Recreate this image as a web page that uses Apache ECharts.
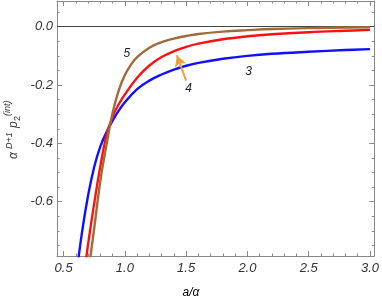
<!DOCTYPE html>
<html><head><meta charset="utf-8">
<script src="https://cdn.jsdelivr.net/npm/echarts@6/dist/echarts.min.js"></script>
<style>html,body{margin:0;padding:0;background:#fff}#c{width:382px;height:300px}</style>
</head><body><div id="c"></div>
<script>
// ---- data ----
const blueX  = [0.60,0.65,0.70,0.75,0.80,0.85,0.90,0.95,1.0,1.1,1.2,1.3,1.4,1.5,1.6,1.8,2.0,2.2,2.5,2.8,3.0];
const blueY  = [-0.865,-0.705,-0.578,-0.48,-0.41,-0.362,-0.322,-0.288,-0.259,-0.214,-0.185,-0.164,-0.147,-0.134,-0.124,-0.110,-0.100,-0.093,-0.086,-0.080,-0.077];
const redX   = [0.67,0.70,0.75,0.80,0.85,0.90,0.95,1.0,1.1,1.2,1.3,1.4,1.5,1.6,1.8,2.0,2.2,2.5,2.8,3.0];
const redY   = [-0.84,-0.745,-0.605,-0.478,-0.372,-0.308,-0.266,-0.232,-0.175,-0.133,-0.104,-0.084,-0.069,-0.058,-0.043,-0.033,-0.026,-0.019,-0.014,-0.011];
const brownX = [0.70,0.72,0.75,0.80,0.85,0.90,0.95,1.0,1.05,1.1,1.2,1.3,1.4,1.5,1.6,1.8,2.0,2.2,2.5,3.0];
const brownY = [-0.85,-0.785,-0.69,-0.528,-0.405,-0.295,-0.218,-0.166,-0.130,-0.104,-0.072,-0.053,-0.041,-0.032,-0.025,-0.017,-0.012,-0.008,-0.005,-0.002];
const xMajor = [0.5,1.0,1.5,2.0,2.5,3.0];
const xMinor = [0.5,0.6,0.7,0.8,0.9,1.0,1.1,1.2,1.3,1.4,1.5,1.6,1.7,1.8,1.9,2.0,2.1,2.2,2.3,2.4,2.5,2.6,2.7,2.8,2.9,3.0];
const yMajor = [-0.6,-0.4,-0.2,0.0];
const yMinor = [-0.75,-0.7,-0.65,-0.6,-0.55,-0.5,-0.45,-0.4,-0.35,-0.3,-0.25,-0.2,-0.15,-0.1,-0.05,0.0,0.05];
const curveLabels = [{text:'5', at:[1.016,-0.091]}, {text:'4', at:[1.52,-0.211]}, {text:'3', at:[2.01,-0.154]}];
const arrowFrom = [1.5,-0.185], arrowTo = [1.424,-0.098];

const pairs = (xs, ys) => xs.map((x,i)=>[x, ys[i]]);
const XMIN=0.446, XMAX=3.035, YMIN=-0.786, YMAX=0.088;
const frame='#888888';
const lblFont = {fontFamily:'Liberation Sans, Arial, sans-serif', fontStyle:'italic', fontSize:13, color:'#333'};

function xAx(pos, vals, len, labels, line){
  return {type:'value', position:pos, min:XMIN, max:XMAX, splitLine:{show:false},
    axisLine:{show:line, onZero:false, lineStyle:{color:frame, width:1}},
    axisTick:{show:true, inside:true, length:len, customValues:vals, lineStyle:{color:frame}},
    axisLabel:labels ? Object.assign({show:true, customValues:vals, margin:6, formatter:v=>v.toFixed(1)}, lblFont) : {show:false}};
}
function yAx(pos, vals, len, labels, line){
  return {type:'value', position:pos, min:YMIN, max:YMAX, splitLine:{show:false},
    axisLine:{show:line, onZero:false, lineStyle:{color:frame, width:1}},
    axisTick:{show:true, inside:true, length:len, customValues:vals, lineStyle:{color:frame}},
    axisLabel:labels ? Object.assign({show:true, customValues:vals, margin:4, formatter:v=>v.toFixed(1)}, lblFont) : {show:false}};
}

const chart = echarts.init(document.getElementById('c'), null, {renderer:'canvas'});
const ml = (c)=>({silent:true, symbol:'none', label:{show:false}, lineStyle:{color:c, width:1, type:'solid'}});
const lineS = (xs, ys, color, z) => ({type:'line', data:pairs(xs, ys), smooth:0.4, showSymbol:false,
  lineStyle:{color:color, width:2.4}, z:z});
chart.setOption({
  animation:false,
  grid:{left:57, right:6, top:1, bottom:44, containLabel:false},
  xAxis:[xAx('bottom', xMajor, 5, true, true), xAx('bottom', xMinor, 2.5, false, false),
         xAx('top', xMajor, 5, false, true), xAx('top', xMinor, 2.5, false, false)],
  yAxis:[yAx('left', yMajor, 5, true, true), yAx('left', yMinor, 2.5, false, false),
         yAx('right', yMajor, 5, false, true), yAx('right', yMinor, 2.5, false, false)],
  series:[
    Object.assign(lineS(blueX, blueY, '#1010ff', 3), {
     markLine:Object.assign(ml('#444'), {data:[{yAxis:0}]}),
     markPoint:{symbol:'circle', symbolSize:0, label:Object.assign({show:true, position:'inside', formatter:p=>p.name}, lblFont, {fontSize:12, color:'#222'}),
       data:curveLabels.map(c=>({name:c.text, coord:c.at}))}}),
    Object.assign(lineS(redX, redY, '#ff1010', 4), {
     markLine:{silent:true, symbol:['none','arrow'], symbolSize:[9,11], label:{show:false},
       lineStyle:{color:'#e8a33c', width:2, type:'solid'},
       data:[[{coord:arrowFrom},{coord:arrowTo}]]}}),
    lineS(brownX, brownY, '#a06a3a', 5)
  ],
  graphic:[
    {type:'text', left:'center', top:287, style:Object.assign({text:'a/α'}, lblFont, {fontSize:12})},
    {type:'group', x:14, y:130, rotation:Math.PI/2, children:[
      {type:'text', x:-29, y:0, style:{text:'α', font:'italic 12px Liberation Sans', fill:'#333', textVerticalAlign:'middle'}},
      {type:'text', x:-19, y:-5, style:{text:'D+1', font:'italic 9px Liberation Sans', fill:'#333', textVerticalAlign:'middle'}},
      {type:'text', x:2, y:0, style:{text:'p', font:'italic 12px Liberation Sans', fill:'#333', textVerticalAlign:'middle'}},
      {type:'text', x:9, y:4, style:{text:'2', font:'9px Liberation Sans', fill:'#333', textVerticalAlign:'middle'}},
      {type:'text', x:14, y:-7, style:{text:'(int)', font:'italic 9px Liberation Sans', fill:'#333', textVerticalAlign:'middle'}}
    ]}
  ]
});
</script></body></html>
